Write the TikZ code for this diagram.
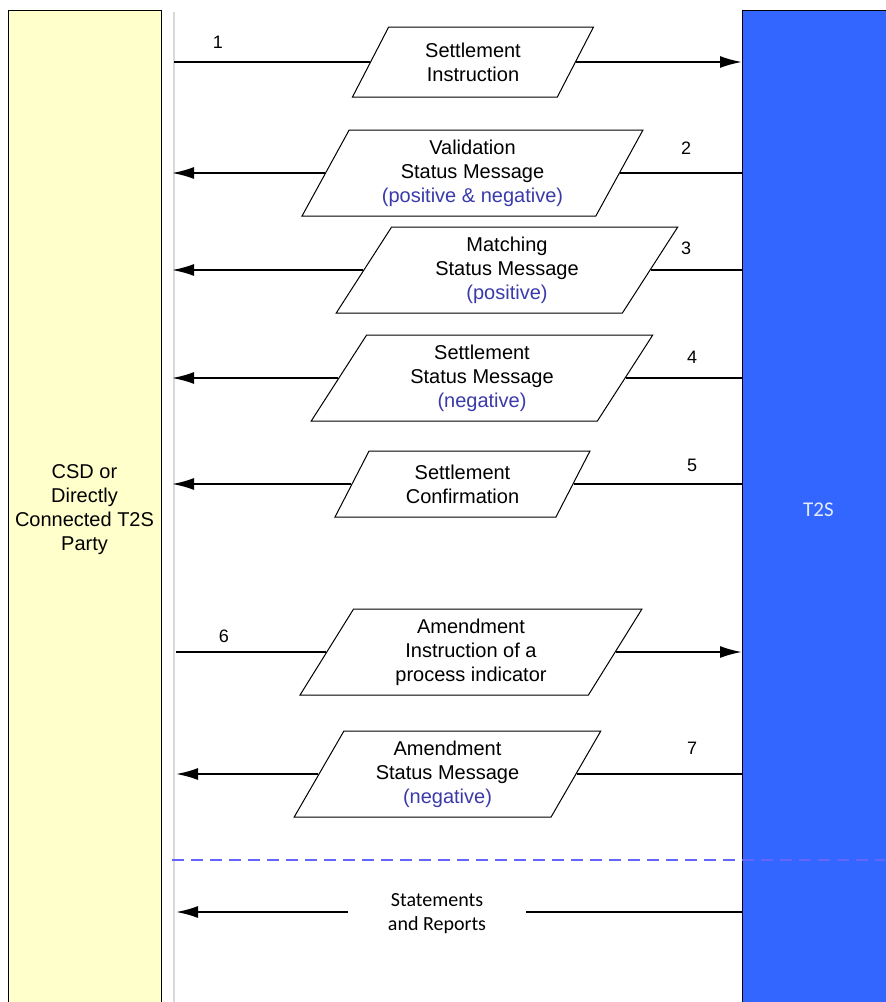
\documentclass[tikz,border=0pt]{standalone}
\usepackage{fontspec}
\setmainfont{Liberation Sans}
\newfontfamily\calibri{Carlito}
\usepackage{tikz}
\usetikzlibrary{arrows.meta,shapes.geometric}
\definecolor{csdyellow}{RGB}{255,255,204}
\definecolor{t2sblue}{RGB}{51,102,255}
\definecolor{t2stext}{RGB}{228,236,255}
\definecolor{hint}{RGB}{58,58,170}
\definecolor{splitline}{RGB}{100,100,255}

\begin{document}
\begin{tikzpicture}[x=0.5pt,y=-0.5pt,>={Latex[length=11pt,width=6pt]},
  font=\fontsize{10}{12}\selectfont,
  lane/.style={draw,line width=0.5pt,minimum width=76.5pt,minimum height=500pt,align=center},
  msg/.style={draw,line width=0.5pt,fill=white,trapezium,trapezium left angle=63.4,
    trapezium right angle=116.6,trapezium stretches=true,align=center,inner sep=1pt},
  flow/.style={line width=1pt},
  num/.style={font=\fontsize{9}{11}\selectfont}]
  \useasboundingbox (0,0) rectangle (885,1002);
  % the two parties
  \node[lane,fill=csdyellow] (csd) at (84.5,510) {CSD or\\Directly\\Connected T2S\\Party};
  \node[lane,fill=t2sblue,text=t2stext,font=\calibri\fontsize{10.5}{12}\selectfont] (t2s) at (818.5,510) {T2S};
  \coordinate (gtop) at (174,12);
  \coordinate (gbot) at (174,1002);
  \draw[black!15,line width=0.75pt] (gtop) -- (gbot);
  % messages
  \node[msg,minimum width=121pt,minimum height=35pt] (si) at (473,62) {Settlement\\Instruction};
  \node[msg,minimum width=170.5pt,minimum height=43pt] (val) at (472.5,173)
    {Validation\\Status Message\\\textcolor{hint}{(positive \& negative)}};
  \node[msg,minimum width=171pt,minimum height=43pt] (mat) at (507,270)
    {Matching\\Status Message\\\textcolor{hint}{(positive)}};
  \node[msg,minimum width=171pt,minimum height=43pt] (sst) at (482,378)
    {Settlement\\Status Message\\\textcolor{hint}{(negative)}};
  \node[msg,minimum width=128.5pt,minimum height=33pt] (sco) at (462.5,484) {Settlement\\Confirmation};
  \node[msg,minimum width=171pt,minimum height=43pt] (ami) at (471,652)
    {Amendment\\Instruction of a\\process indicator};
  \node[msg,minimum width=153.5pt,minimum height=43pt] (ams) at (447.5,774)
    {Amendment\\Status Message\\\textcolor{hint}{(negative)}};
  % to T2S
  \foreach \m/\x/\y in {si/174/62,ami/176/652}{
    \coordinate (\m-l) at (\x,\y);
    \coordinate (\m-r) at (742,\y);
    \draw[flow] (\m-l) -- (\m.left side);
    \draw[flow,->] (\m.right side) -- (\m-r);
  }
  % from T2S
  \foreach \m/\x/\y in {val/172/173,mat/172/270,sst/172/378,sco/172/484,ams/176/774}{
    \coordinate (\m-l) at (\x,\y);
    \coordinate (\m-r) at (742,\y);
    \draw[flow] (\m-r) -- (\m.right side);
    \draw[flow,->] (\m.left side) -- (\m-l);
  }
  \node[num] (n1) at (218,42) {1};
  \node[num] (n2) at (686,148) {2};
  \node[num] (n3) at (686,248) {3};
  \node[num] (n4) at (692,357) {4};
  \node[num] (n5) at (692,465) {5};
  \node[num] (n6) at (224,636) {6};
  \node[num] (n7) at (692,748) {7};
  % statements
  \coordinate (dl) at (172,860);
  \coordinate (dr) at (885,860);
  \draw[splitline,line width=0.75pt,dash pattern=on 6pt off 3.5pt] (dl) -- (dr);
  \node[align=center,minimum width=88.5pt,inner sep=0pt,font=\calibri\fontsize{10}{12}\selectfont]
    (sr) at (437,914) {Statements\\and Reports};
  \coordinate (sr-l) at (176,912);
  \coordinate (sr-r) at (742,912);
  \draw[flow] (sr-r) -- (sr.east |- sr-r);
  \draw[flow,->] (sr.west |- sr-l) -- (sr-l);
\end{tikzpicture}
\end{document}
